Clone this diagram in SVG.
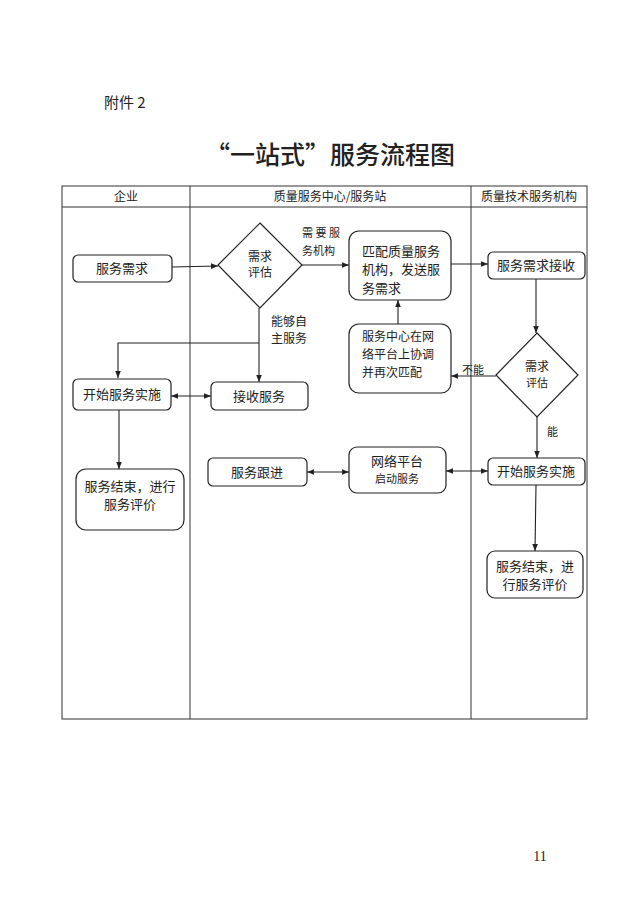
<svg xmlns="http://www.w3.org/2000/svg" width="640" height="905" viewBox="0 0 640 905">
<defs>
<marker id="ah" viewBox="0 0 10 10" refX="10" refY="5" markerWidth="7" markerHeight="7" orient="auto-start-reverse" markerUnits="userSpaceOnUse">
<path d="M0,1 L10,5 L0,9 z" fill="#222"/>
</marker>
<style>
text{font-family:"Noto Sans CJK SC","Liberation Sans",sans-serif;fill:#222}
.n{font-size:13px;text-anchor:middle}
.d{font-size:12px;text-anchor:middle}
.s{font-size:11px;text-anchor:middle}
.h{font-size:12px;text-anchor:middle}
.box{fill:#fff;stroke:#222;stroke-width:1.2}
.ln{fill:none;stroke:#222;stroke-width:1.1}
.grid{fill:none;stroke:#333;stroke-width:1}
</style>
</defs>
<rect width="640" height="905" fill="#fff"/>
<text x="104" y="108" style="font-size:15px">附件 2</text>
<text x="330" y="164" style="font-size:25px;text-anchor:middle;font-weight:500">“一站式”服务流程图</text>
<text x="540" y="861" style="font-size:14px;text-anchor:middle;font-family:'Liberation Serif',serif">11</text>

<g id="lanes">
<rect class="grid" x="62" y="186" width="525" height="533"/>
<line class="grid" x1="62" y1="207" x2="587" y2="207"/>
<line class="grid" x1="190" y1="186" x2="190" y2="719"/>
<line class="grid" x1="471" y1="186" x2="471" y2="719"/>
<text class="h" x="126" y="201">企业</text>
<text class="h" x="330" y="201">质量服务中心/服务站</text>
<text class="h" x="529" y="201">质量技术服务机构</text>
</g>

<g id="connectors">
<line class="ln" x1="172" y1="267" x2="218" y2="266" marker-end="url(#ah)"/>
<line class="ln" x1="302" y1="265" x2="349" y2="265" marker-end="url(#ah)"/>
<text x="302" y="237" style="font-size:11px">需 要 服</text>
<text x="302" y="255" style="font-size:11px">务机构</text>
<line class="ln" x1="451" y1="264" x2="488" y2="264" marker-end="url(#ah)"/>
<line class="ln" x1="536" y1="279" x2="536" y2="333" marker-end="url(#ah)"/>
<line class="ln" x1="496" y1="376" x2="451" y2="376" marker-end="url(#ah)"/>
<text x="462" y="374" style="font-size:11px">不能</text>
<line class="ln" x1="398" y1="324" x2="398" y2="300" marker-end="url(#ah)"/>
<polyline class="ln" points="259,308 259,382" marker-end="url(#ah)"/>
<polyline class="ln" points="259,343 118,343 118,378" marker-end="url(#ah)"/>
<text x="271" y="326" style="font-size:12px">能够自</text>
<text x="271" y="343" style="font-size:12px">主服务</text>
<line class="ln" x1="171" y1="396" x2="211" y2="396" marker-start="url(#ah)" marker-end="url(#ah)"/>
<line class="ln" x1="119" y1="410" x2="119" y2="469" marker-end="url(#ah)"/>
<line class="ln" x1="307" y1="472" x2="349" y2="472" marker-start="url(#ah)" marker-end="url(#ah)"/>
<line class="ln" x1="446" y1="471" x2="488" y2="471" marker-start="url(#ah)" marker-end="url(#ah)"/>
<line class="ln" x1="537" y1="417" x2="537" y2="458" marker-end="url(#ah)"/>
<text x="547" y="436" style="font-size:11px">能</text>
<line class="ln" x1="536" y1="485" x2="535" y2="551" marker-end="url(#ah)"/>
</g>

<g id="n-demand">
<rect class="box" x="73" y="255" width="99" height="27" rx="5"/>
<text class="n" x="122" y="273">服务需求</text>
</g>
<g id="n-assess1">
<polygon class="box" points="260,223 302,265 260,308 218,265"/>
<text class="d" x="260" y="261">需求</text>
<text class="d" x="260" y="277">评估</text>
</g>
<g id="n-match">
<rect class="box" x="349" y="231" width="102" height="69" rx="10"/>
<text x="362" y="256" style="font-size:13px">匹配质量服务</text>
<text x="362" y="274" style="font-size:13px">机构，发送服</text>
<text x="362" y="293" style="font-size:13px">务需求</text>
</g>
<g id="n-receive-req">
<rect class="box" x="488" y="252" width="97" height="27" rx="5"/>
<text class="n" x="536" y="270">服务需求接收</text>
</g>
<g id="n-assess2">
<polygon class="box" points="537,333 578,375 537,417 496,375"/>
<text class="d" x="537" y="371">需求</text>
<text class="s" x="537" y="387">评估</text>
</g>
<g id="n-coord">
<rect class="box" x="349" y="324" width="102" height="69" rx="10"/>
<text x="362" y="341" style="font-size:12px">服务中心在网</text>
<text x="362" y="359" style="font-size:12px">络平台上协调</text>
<text x="362" y="377" style="font-size:12px">并再次匹配</text>
</g>
<g id="n-start-left">
<rect class="box" x="73" y="379" width="98" height="31" rx="5"/>
<text class="n" x="122" y="399">开始服务实施</text>
</g>
<g id="n-accept">
<rect class="box" x="211" y="382" width="97" height="28" rx="5"/>
<text class="n" x="259" y="401">接收服务</text>
</g>
<g id="n-end-left">
<rect class="box" x="76" y="469" width="108" height="61" rx="10"/>
<text class="n" x="130" y="491">服务结束，进行</text>
<text class="n" x="130" y="509">服务评价</text>
</g>
<g id="n-follow">
<rect class="box" x="208" y="458" width="99" height="28" rx="5"/>
<text class="n" x="257" y="477">服务跟进</text>
</g>
<g id="n-platform">
<rect class="box" x="349" y="447" width="97" height="46" rx="8"/>
<text class="n" x="397" y="466">网络平台</text>
<text class="s" x="397" y="483">启动服务</text>
</g>
<g id="n-start-right">
<rect class="box" x="488" y="458" width="97" height="27" rx="5"/>
<text class="n" x="536" y="476">开始服务实施</text>
</g>
<g id="n-end-right">
<rect class="box" x="487" y="551" width="96" height="47" rx="8"/>
<text class="n" x="535" y="571">服务结束，进</text>
<text class="n" x="535" y="589">行服务评价</text>
</g>
</svg>
